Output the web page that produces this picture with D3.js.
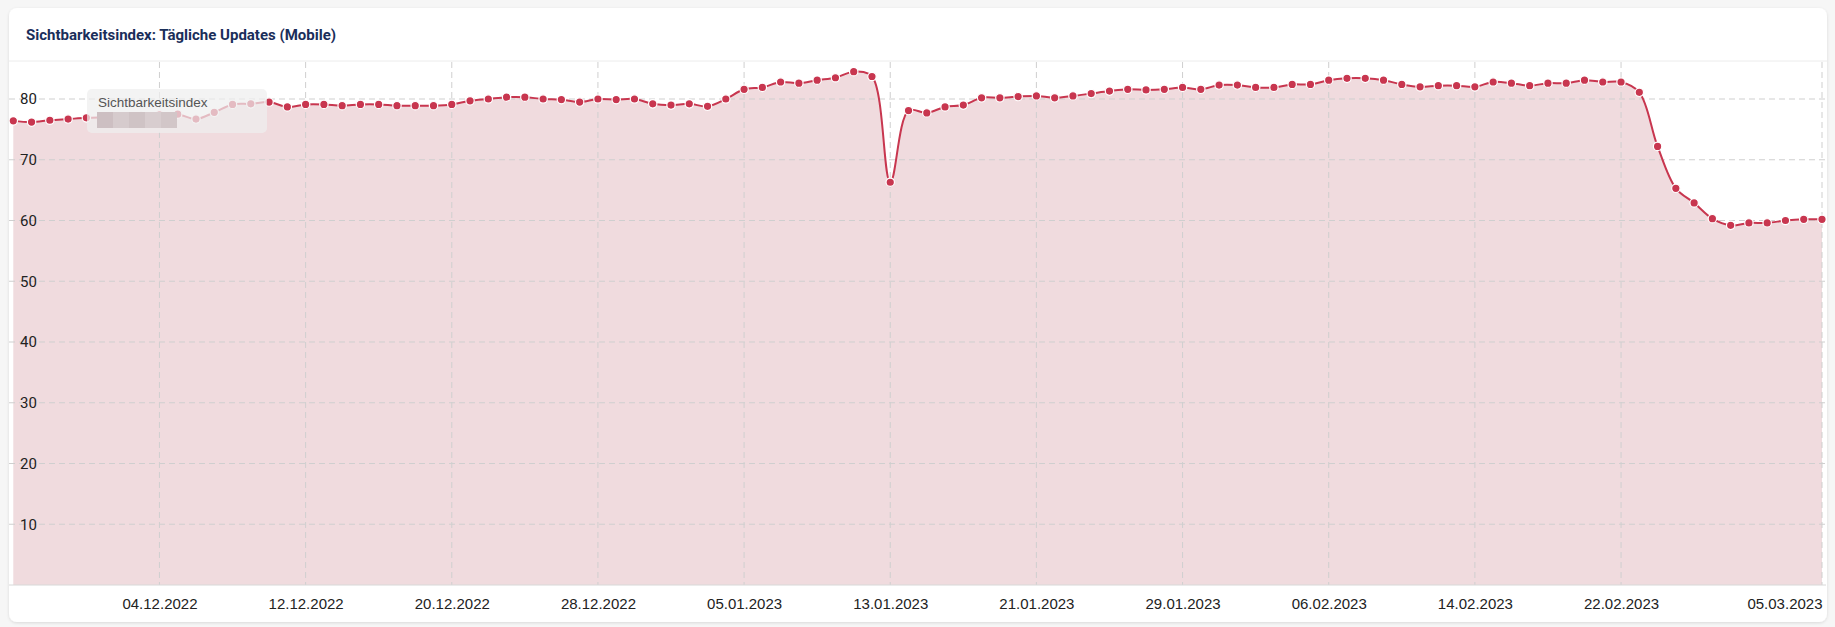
<!DOCTYPE html>
<html><head><meta charset="utf-8">
<script src="https://cdn.jsdelivr.net/npm/d3@7"></script>
<style>
html,body{margin:0;padding:0;background:#f6f6f6;}
svg{display:block;font-family:Roboto,"Liberation Sans",Arial,sans-serif;}
</style></head><body>
<svg id="c" width="1835" height="627"></svg>
<script>
const startDate = "2022-11-26";
const values = [
76.4,76.2,76.5,76.7,76.9, 77.0,77.1,77.2,77.4,77.5,
76.7,77.8,79.1,79.2,79.5,78.7,79.1,79.1,78.9,79.1,
79.1,78.9,78.9,78.9,79.1,79.7,80.0,80.3,80.3,80.0,
79.9,79.5,80.0,79.9,80.0,79.2,79.0,79.2,78.8,80.0,
81.6,81.9,82.8,82.6,83.1,83.5,84.5,83.7,66.3,78.1,
77.7,78.7,79.0,80.2,80.2,80.4,80.5,80.2,80.5,80.9,
81.3,81.6,81.5,81.6,81.9,81.6,82.3,82.3,81.9,81.9,
82.4,82.4,83.1,83.4,83.4,83.1,82.4,82.0,82.2,82.2,
82.0,82.8,82.6,82.2,82.6,82.6,83.1,82.8,82.8,81.1,
72.2,65.3,62.9,60.3,59.2,59.6,59.6,60.0,60.2,60.2];
const xTickLabels = ["04.12.2022","12.12.2022","20.12.2022","28.12.2022","05.01.2023","13.01.2023","21.01.2023","29.01.2023","06.02.2023","14.02.2023","22.02.2023","05.03.2023"];
const yTicks = [10,20,30,40,50,60,70,80];
const title = "Sichtbarkeitsindex: Tägliche Updates (Mobile)";
const seriesName = "Sichtbarkeitsindex";

const parse = d3.timeParse("%Y-%m-%d"), fmt = d3.timeFormat("%d.%m.%Y"), parseDE = d3.timeParse("%d.%m.%Y");
const t0 = parse(startDate);
const data = values.map((v,i)=>({date:d3.timeDay.offset(t0,i), v}));

const svg = d3.select("#c");
const defs = svg.append("defs");
defs.append("filter").attr("id","sh").append("feDropShadow").attr("dx",0).attr("dy",1).attr("stdDeviation",1.5).attr("flood-color","#000").attr("flood-opacity",0.12);
const card = {x:9,y:8,w:1818,h:614};
svg.append("rect").attr("x",card.x).attr("y",card.y).attr("width",card.w).attr("height",card.h).attr("rx",8).attr("fill","#fff").attr("filter","url(#sh)");
svg.append("text").attr("x",26).attr("y",40).attr("font-size",15).attr("font-weight",700).attr("fill","#1a2e5a").text(title);
svg.append("line").attr("x1",card.x).attr("x2",card.x+card.w).attr("y1",61).attr("y2",61).attr("stroke","#ececec");

const plot = {l:9,r:1826,t:62,b:585};
defs.append("clipPath").attr("id","cp").append("rect").attr("x",plot.l).attr("y",plot.t).attr("width",plot.r-plot.l).attr("height",plot.b-plot.t);
const x = d3.scaleTime().domain([data[0].date,data[data.length-1].date]).range([13.3,1822]);
const y = d3.scaleLinear().domain([0,80]).range([plot.b,99]);

const g = svg.append("g").attr("clip-path","url(#cp)");
const curve = d3.curveCatmullRom.alpha(0.5);
g.append("path").datum(data).attr("fill","#f0dbde")
 .attr("d",d3.area().x(d=>x(d.date)).y0(plot.b).y1(d=>y(d.v)).curve(curve));
// grid
g.append("g").selectAll("line").data(yTicks).join("line")
 .attr("x1",plot.l).attr("x2",plot.r).attr("y1",d=>y(d)).attr("y2",d=>y(d))
 .attr("stroke","#cfcfcf").attr("stroke-dasharray","6,4");
const xt = xTickLabels.map(s=>parseDE(s));
g.append("g").selectAll("line").data(xt).join("line")
 .attr("x1",d=>x(d)).attr("x2",d=>x(d)).attr("y1",plot.t).attr("y2",plot.b)
 .attr("stroke","#cfcfcf").attr("stroke-dasharray","6,4");
g.append("path").datum(data).attr("fill","none").attr("stroke","#c8364f").attr("stroke-width",2)
 .attr("d",d3.line().x(d=>x(d.date)).y(d=>y(d.v)).curve(curve));
g.append("g").selectAll("circle").data(data).join("circle")
 .attr("cx",d=>x(d.date)).attr("cy",d=>y(d.v)).attr("r",4.2)
 .attr("fill","#c8364f").attr("stroke","#fff").attr("stroke-width",1.2);
svg.append("line").attr("x1",plot.l).attr("x2",plot.r).attr("y1",plot.b).attr("y2",plot.b).attr("stroke","#d8d8d8");

// axes
const ya = svg.append("g").attr("transform","translate(20,0)")
 .call(d3.axisRight(y).tickValues(yTicks).tickSize(0).tickPadding(0).tickFormat(d3.format("d")));
ya.select(".domain").remove();
ya.selectAll("text").attr("font-size",15).attr("fill","#222").attr("font-family","Roboto,'Liberation Sans',Arial");
const xa = svg.append("g").attr("transform",`translate(0,${plot.b})`)
 .call(d3.axisBottom(x).tickValues(xt).tickSize(0).tickPadding(13).tickFormat(fmt));
xa.select(".domain").remove();
xa.selectAll("text").attr("font-size",15).attr("fill","#222").attr("font-family","'Liberation Sans',Arial");
xa.selectAll(".tick:last-of-type text").attr("text-anchor","end").attr("dx",0);

// tooltip
const tt = svg.append("g");
tt.append("rect").attr("x",87).attr("y",89).attr("width",180).attr("height",44).attr("rx",5).attr("fill","rgba(238,238,238,0.72)");
tt.append("text").attr("x",98).attr("y",107).attr("font-size",13.5).attr("fill","#555").attr("font-family","'Liberation Sans',Arial").text(seriesName);
const blocks = ["#cdbfc2","#d6cbcd","#cfc3c5","#d8cdcf","#d2c6c8"];
tt.selectAll("rect.b").data(blocks).join("rect").attr("class","b")
 .attr("x",(d,i)=>97+i*16).attr("y",112).attr("width",16).attr("height",16).attr("fill",d=>d);
</script></body></html>
